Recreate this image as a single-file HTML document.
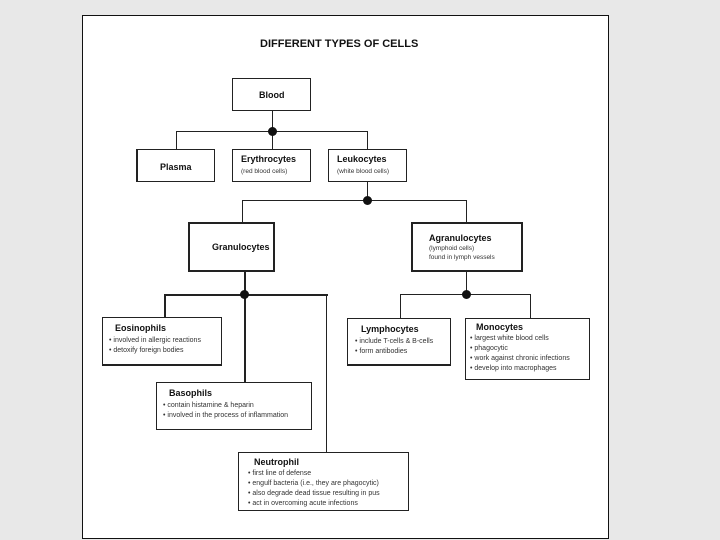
<!DOCTYPE html>
<html><head><meta charset="utf-8"><style>
body{margin:0;width:720px;height:540px;background:#e8e8e8;position:relative;overflow:hidden;font-family:"Liberation Sans",Arial,sans-serif;}
#p{position:absolute;left:82px;top:15px;width:525px;height:522px;background:#fff;border:1.5px solid #111;}
.b{position:absolute;background:#fff;border:1px solid #222;box-sizing:border-box;}
.t{position:absolute;font-weight:bold;font-size:9px;color:#111;white-space:nowrap;}
.s{font-size:7px;color:#333;line-height:10px;margin-top:3px;}
.u{font-size:6.5px;color:#333;line-height:9px;margin-top:3px;}
.l{position:absolute;background:#222;}
.d{position:absolute;width:9px;height:9px;border-radius:50%;background:#111;}
</style></head><body>
<div id="p"></div>
<div class="t" style="left:260px;top:38px;font-size:11px;">DIFFERENT TYPES OF CELLS</div>

<div class="l" style="left:272px;top:111px;width:1px;height:20px"></div>
<div class="l" style="left:176px;top:131px;width:191px;height:1px"></div>
<div class="l" style="left:176px;top:131px;width:1px;height:18px"></div>
<div class="l" style="left:272px;top:131px;width:1px;height:18px"></div>
<div class="l" style="left:367px;top:131px;width:1px;height:18px"></div>
<div class="d" style="left:268px;top:127px"></div>

<div class="l" style="left:367px;top:182px;width:1px;height:18px"></div>
<div class="l" style="left:242px;top:200px;width:224px;height:1px"></div>
<div class="l" style="left:242px;top:200px;width:1px;height:22px"></div>
<div class="l" style="left:466px;top:200px;width:1px;height:22px"></div>
<div class="d" style="left:363px;top:196px"></div>

<div class="l" style="left:244px;top:272px;width:2px;height:110px"></div>
<div class="l" style="left:164px;top:294px;width:164px;height:2px"></div>
<div class="l" style="left:164px;top:294px;width:2px;height:23px"></div>
<div class="l" style="left:326px;top:294px;width:1px;height:158px"></div>
<div class="d" style="left:240px;top:290px"></div>

<div class="l" style="left:466px;top:272px;width:1px;height:22px"></div>
<div class="l" style="left:400px;top:294px;width:130px;height:1px"></div>
<div class="l" style="left:400px;top:294px;width:1px;height:24px"></div>
<div class="l" style="left:530px;top:294px;width:1px;height:24px"></div>
<div class="d" style="left:462px;top:290px"></div>

<div class="b" style="left:232px;top:78px;width:79px;height:33px"><div class="t" style="left:26px;top:11px">Blood</div></div>
<div class="b" style="left:136px;top:149px;width:79px;height:33px;border-left-width:2px"><div class="t" style="left:22px;top:12px">Plasma</div></div>
<div class="b" style="left:232px;top:149px;width:79px;height:33px;border-width:1.5px"><div class="t" style="left:8px;top:4px">Erythrocytes<div class="u" style="font-weight:normal">(red blood cells)</div></div></div>
<div class="b" style="left:328px;top:149px;width:79px;height:33px"><div class="t" style="left:8px;top:4px">Leukocytes<div class="u" style="font-weight:normal">(white blood cells)</div></div></div>

<div class="b" style="left:188px;top:222px;width:87px;height:50px;border-width:2px"><div class="t" style="left:22px;top:18px">Granulocytes</div></div>
<div class="b" style="left:411px;top:222px;width:112px;height:50px;border-width:2px"><div class="t" style="left:16px;top:9px">Agranulocytes<div class="u" style="font-weight:normal;margin-top:1px">(lymphoid cells)<br>found in lymph vessels</div></div></div>

<div class="b" style="left:102px;top:317px;width:120px;height:49px;border-bottom-width:2px"><div class="t" style="left:12px;top:5px">Eosinophils<div class="s" style="font-weight:normal;margin-left:-6px">• involved in allergic reactions<br>• detoxify foreign bodies</div></div></div>
<div class="b" style="left:156px;top:382px;width:156px;height:48px"><div class="t" style="left:12px;top:5px">Basophils<div class="s" style="font-weight:normal;margin-left:-6px">• contain histamine &amp; heparin<br>• involved in the process of inflammation</div></div></div>
<div class="b" style="left:238px;top:452px;width:171px;height:59px;border-width:1.5px"><div class="t" style="left:15px;top:4px">Neutrophil<div class="s" style="font-weight:normal;margin-left:-6px;margin-top:2px">• first line of defense<br>• engulf bacteria (i.e., they are phagocytic)<br>• also degrade dead tissue resulting in pus<br>• act in overcoming acute infections</div></div></div>
<div class="b" style="left:347px;top:318px;width:104px;height:48px;border-bottom-width:2px"><div class="t" style="left:13px;top:5px">Lymphocytes<div class="s" style="font-weight:normal;margin-left:-6px">• include T-cells &amp; B-cells<br>• form antibodies</div></div></div>
<div class="b" style="left:465px;top:318px;width:125px;height:62px;border-width:1.5px"><div class="t" style="left:10px;top:3px">Monocytes<div class="s" style="font-weight:normal;margin-left:-6px;margin-top:2px">• largest white blood cells<br>• phagocytic<br>• work against chronic infections<br>• develop into macrophages</div></div></div>
</body></html>
